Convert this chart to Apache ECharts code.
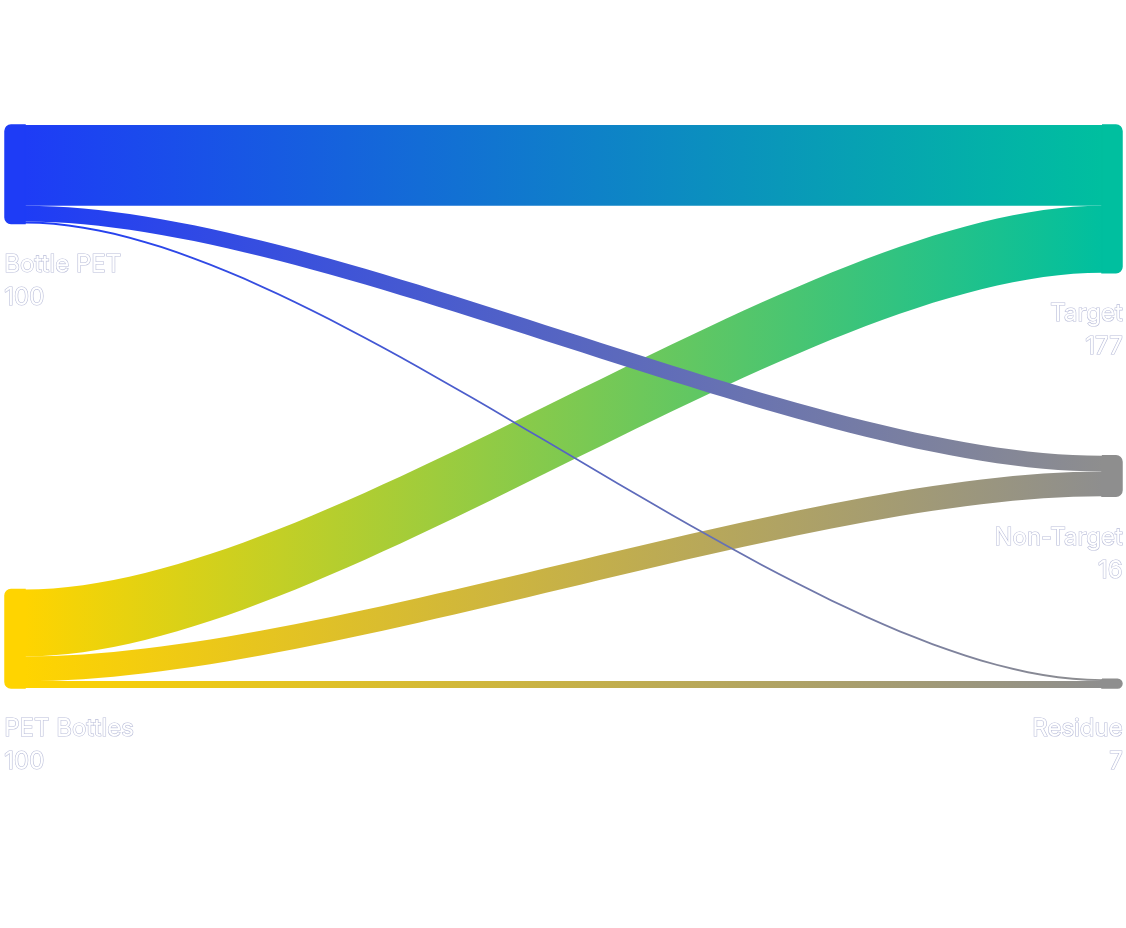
<!DOCTYPE html>
<html>
<head>
<meta charset="utf-8">
<script src="https://cdn.jsdelivr.net/npm/echarts@6/dist/echarts.min.js"></script>
<style>html,body{margin:0;padding:0;background:#ffffff}#chart{width:1126px;height:928px}</style>
</head>
<body>
<div id="chart"></div>
<script>
// ---- data ----
const sourceNodes = ['Bottle PET', 'PET Bottles'];
const targetNodes = ['Target', 'Non-Target', 'Residue'];
// flows from each source to [Target, Non-Target, Residue]
const bottlePetFlows = [82, 16, 2];
const petBottlesFlows = [68, 25, 7];
// numbers printed under each node name
const labelValues = { 'Bottle PET': 100, 'PET Bottles': 100, 'Target': 177, 'Non-Target': 16, 'Residue': 7 };

// ---- styles ----
const nodeColors = {
  'Bottle PET': '#1e3cf6',
  'PET Bottles': '#ffd400',
  'Target': '#00bf9f',
  'Non-Target': '#8e8e8e',
  'Residue': '#8e8e8e'
};
const SPACER = '\u200b';

const textStyle = {
  color: '#ffffff',
  fontFamily: 'Inter',
  fontSize: 24,
  fontWeight: 400,
  lineHeight: 33,
  textBorderColor: '#b9bdd9',
  textBorderWidth: 1.2,
  formatter: p => p.name + '\n' + labelValues[p.name]
};

const nodes = [
  { name: sourceNodes[0], depth: 0 },
  { name: SPACER, depth: 0, value: 0, itemStyle: { opacity: 0 }, label: { show: false } },
  { name: sourceNodes[1], depth: 0 },
  ...targetNodes.map(n => ({ name: n, depth: 1 }))
].map(n => n.name === SPACER ? n : Object.assign(n, {
  itemStyle: { color: nodeColors[n.name], borderColor: nodeColors[n.name] }
}));

const links = [];
petBottlesFlows.forEach((v, i) => links.push({ source: sourceNodes[1], target: targetNodes[i], value: v }));
bottlePetFlows.forEach((v, i) => links.push({ source: sourceNodes[0], target: targetNodes[i], value: v }));

const chart = echarts.init(document.getElementById('chart'), null, { renderer: 'canvas' });
chart.setOption({
  animation: false,
  series: [{
    type: 'sankey',
    left: 5, right: 4, top: 125, bottom: 240,
    nodeWidth: 20,
    nodeGap: 183,
    nodeAlign: 'left',
    layoutIterations: 0,
    draggable: false,
    emphasis: { disabled: true },
    itemStyle: { borderWidth: 1.5 },
    lineStyle: { color: 'gradient', opacity: 1, curveness: 0.28 },
    levels: [
      {
        depth: 0,
        itemStyle: { borderRadius: [6, 0, 0, 6] },
        label: Object.assign({ show: true, position: ['0%', '100%'], align: 'left', verticalAlign: 'top', offset: [0, 24] }, textStyle)
      },
      {
        depth: 1,
        itemStyle: { borderRadius: [0, 6, 6, 0] },
        label: Object.assign({ show: true, position: ['100%', '100%'], align: 'right', verticalAlign: 'top', offset: [0, 24] }, textStyle)
      }
    ],
    data: nodes,
    links: links
  }]
});
</script>
</body>
</html>
